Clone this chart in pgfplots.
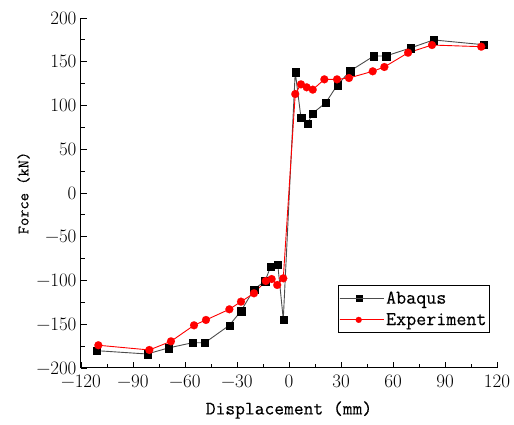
\documentclass[border=0pt]{standalone}
\usepackage{fontspec}
\usepackage{pgfplots}
\pgfplotsset{compat=1.18}
\newfontfamily\labelfont[FakeBold=0.25]{Latin Modern Mono}
\begin{document}
\begin{tikzpicture}
\begin{axis}[
  scale only axis,
  width=416pt, height=350pt,
  xmin=-120, xmax=120, ymin=-200, ymax=200,
  axis x line*=bottom, axis y line*=left,
  axis line style={line width=1pt},
  xtick={-120,-90,...,120}, ytick={-200,-150,...,200},
  xticklabels={−120,−90,−60,−30,0,30,60,90,120},
  yticklabels={−200,−150,−100,−50,0,50,100,150,200},
  minor x tick num=1, minor y tick num=1,
  tick align=inside,
  major tick length=6pt, minor tick length=3.5pt,
  tick style={line width=0.8pt, black},
  tick label style={font=\fontsize{19}{19}\selectfont},
  xticklabel style={yshift=-3pt},
  yticklabel style={xshift=-1pt},
  xlabel={Displacement (mm)},
  ylabel={Force (kN)},
  xlabel style={font=\labelfont\fontsize{19}{19}\selectfont, yshift=-7pt},
  ylabel style={font=\labelfont\fontsize{16}{16}\selectfont, yshift=0pt},
  legend style={at={(rel axis cs:0.983,0.1)}, anchor=south east,
    font=\labelfont\fontsize{19.5}{22}\selectfont, draw=black, line width=0.8pt,
    inner xsep=1pt, inner ysep=4pt, row sep=4pt},
  legend cell align=left,
  legend image code/.code={%
    \draw[mark repeat=2,mark phase=2,#1] plot coordinates {(0pt,0pt) (19pt,0pt) (38pt,0pt)};
    \path (0pt,0pt) -- (44pt,0pt);},
  legend image post style={line width=0.8pt, mark size=3pt},
]
\addplot[color=black!70, line width=0.9pt, mark=square*, mark size=3.6pt,
  mark options={draw=black, fill=black, line width=0.1pt}] coordinates {
(-110.9,-180.2) (-81.8,-184) (-69.6,-177.1) (-55.6,-171.1) (-48.5,-171.1)
(-34.4,-151.2) (-27.7,-134.9) (-20.2,-110.1) (-13.8,-100.6) (-10.6,-84.2)
(-6.5,-81.5) (-3.3,-144.3) (3.6,138.3) (6.9,86.1) (10.6,79.2) (13.7,91.1)
(21.2,103.2) (27.9,123.4) (35.2,139.4) (49.0,156.6) (56.0,156.6)
(70.0,165.7) (83.4,174.9) (112.1,169.5)
};
\addlegendentry{Abaqus}
\addplot[color=red, line width=0.9pt, mark=*, mark size=4pt,
  mark options={draw=red, fill=red, line width=0.1pt}] coordinates {
(-110,-174) (-80.6,-179.4) (-68.1,-169.5) (-54.8,-151.2) (-47.9,-145.1)
(-34.4,-132.9) (-27.7,-124.2) (-20.2,-114.6) (-13.4,-100.6) (-10.0,-98.3)
(-6.8,-105.1) (-3.3,-97.5) (3.6,113.1) (6.9,124.2) (10.2,120.8) (13.7,118.1)
(20.4,129.9) (27.7,129.9) (34.6,131.4) (48.3,139.1) (55.0,144)
(68.7,160.3) (82.5,169.1) (110.9,167.2)
};
\addlegendentry{Experiment}
\end{axis}
\pgfresetboundingbox
\path ([shift={(-81pt,-57pt)}]current axis.south west) rectangle ([shift={(17pt,18pt)}]current axis.north east);
\end{tikzpicture}
\end{document}
